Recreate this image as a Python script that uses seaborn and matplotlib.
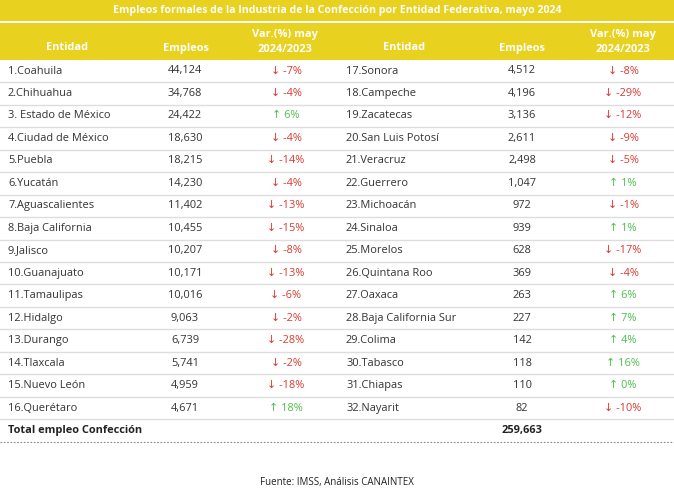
import matplotlib.pyplot as plt
import seaborn as sns

entidades = [
    "1.Coahuila", "2.Chihuahua", "3. Estado de México", "4.Ciudad de México",
    "5.Puebla", "6.Yucatán", "7.Aguascalientes", "8.Baja California",
    "9.Jalisco", "10.Guanajuato", "11.Tamaulipas", "12.Hidalgo",
    "13.Durango", "14.Tlaxcala", "15.Nuevo León", "16.Querétaro",
    "17.Sonora", "18.Campeche", "19.Zacatecas", "20.San Luis Potosí",
    "21.Veracruz", "22.Guerrero", "23.Michoacán", "24.Sinaloa",
    "25.Morelos", "26.Quintana Roo", "27.Oaxaca", "28.Baja California Sur",
    "29.Colima", "30.Tabasco", "31.Chiapas", "32.Nayarit",
]
empleos = [
    44124, 34768, 24422, 18630, 18215, 14230, 11402, 10455,
    10207, 10171, 10016, 9063, 6739, 5741, 4959, 4671,
    4512, 4196, 3136, 2611, 2498, 1047, 972, 939,
    628, 369, 263, 227, 142, 118, 110, 82,
]
variacion = [
    -7, -4, 6, -4, -14, -4, -13, -15,
    -8, -13, -6, -2, -28, -2, -18, 18,
    -8, -29, -12, -9, -5, 1, -1, 1,
    -17, -4, 6, 7, 4, 16, 0, -10,
]
total = 259663

titulo = "Empleos formales de la Industria de la Confección por Entidad Federativa, mayo 2024"
fuente = "Fuente: IMSS, Análisis CANAINTEX"

amarillo = "#E9D11F"
rojo = "#D93A32"
verde = "#4DBE4F"
texto = "#333333"

sns.set_style("white")
plt.rcParams["font.family"] = ["Open Sans", "DejaVu Sans"]

fs = 7.9

fig = plt.figure(figsize=(6.74, 5), dpi=100)
ax = fig.add_axes([0, 0, 1, 1])
ax.set_xlim(0, 674)
ax.set_ylim(500, 0)
ax.axis("off")

# bandas amarillas
ax.axhspan(0, 21, color=amarillo, lw=0)
ax.axhspan(22.5, 60, color=amarillo, lw=0)
ax.text(337, 11, titulo, color="white", fontweight="bold", fontsize=7.6,
        ha="center", va="center")

# encabezados
for x_ent, x_emp, x_var in [(67, 186, 285), (404, 522, 623)]:
    ax.text(x_ent, 48, "Entidad", color="white", fontweight="bold", fontsize=fs, ha="center", va="center")
    ax.text(x_emp, 48, "Empleos", color="white", fontweight="bold", fontsize=fs, ha="center", va="center")
    ax.text(x_var, 34, "Var.(%) may", color="white", fontweight="bold", fontsize=fs, ha="center", va="center")
    ax.text(x_var, 49.5, "2024/2023", color="white", fontweight="bold", fontsize=fs, ha="center", va="center")

paso = 22.47
y0 = 71
for i, (nombre, emp, var) in enumerate(zip(entidades, empleos, variacion)):
    col = i // 16
    fila = i % 16
    y = y0 + fila * paso
    x_ent, x_emp, x_var = [(8, 185, 286), (346, 522, 623)][col]
    ax.text(x_ent, y, nombre, color=texto, fontsize=fs, ha="left", va="center")
    ax.text(x_emp, y, f"{emp:,}", color=texto, fontsize=fs, ha="center", va="center")
    flecha = "↑" if var >= 0 else "↓"
    ax.text(x_var, y, f"{flecha} {var}%", color=verde if var >= 0 else rojo,
            fontsize=fs, ha="center", va="center")

# separadores de filas
for k in range(1, 17):
    yl = y0 - paso / 2 + k * paso
    ax.axhline(yl, color="#DDDDDD", lw=1)

yt = y0 + 16 * paso
ax.text(8, yt, "Total empleo Confección", color="#222222", fontweight="bold", fontsize=fs, ha="left", va="center")
ax.text(522, yt, f"{total:,}", color="#222222", fontweight="bold", fontsize=fs, ha="center", va="center")
ax.axhline(yt + 11.5, color="#888888", lw=0.8, ls=(0, (1.5, 1.5)))

ax.text(337, 482, fuente, color="#222222", fontsize=7, ha="center", va="center")

fig.savefig("out.png", dpi=100, facecolor="white")
